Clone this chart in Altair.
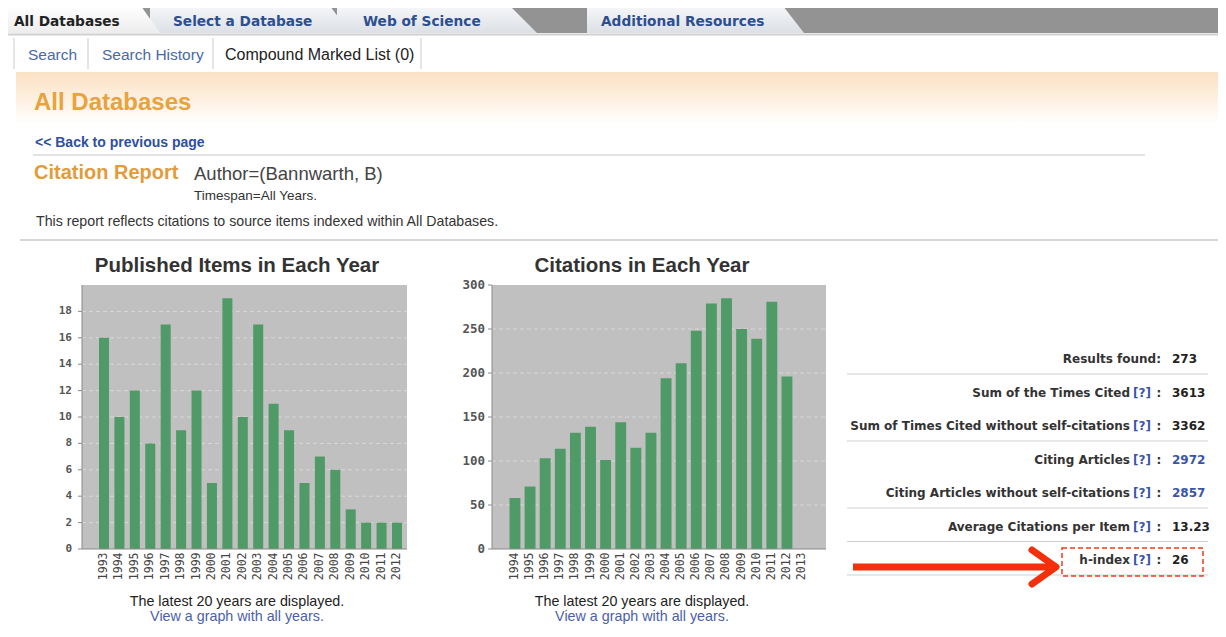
import altair as alt
import pandas as pd

# ---------------- data ----------------
pub_years = ["1993", "1994", "1995", "1996", "1997", "1998", "1999", "2000", "2001", "2002",
             "2003", "2004", "2005", "2006", "2007", "2008", "2009", "2010", "2011", "2012"]
pub_counts = [16, 10, 12, 8, 17, 9, 12, 5, 19, 10, 17, 11, 9, 5, 7, 6, 3, 2, 2, 2]
pub_ticks = [0, 2, 4, 6, 8, 10, 12, 14, 16, 18]

cit_years = ["1994", "1995", "1996", "1997", "1998", "1999", "2000", "2001", "2002", "2003",
             "2004", "2005", "2006", "2007", "2008", "2009", "2010", "2011", "2012", "2013"]
cit_counts = [58, 71, 103, 114, 132, 139, 101, 144, 115, 132,
              194, 211, 248, 279, 285, 250, 239, 281, 196, 0]
cit_ticks = [0, 50, 100, 150, 200, 250, 300]

stat_labels = ["Results found:", "Sum of the Times Cited",
               "Sum of Times Cited without self-citations", "Citing Articles",
               "Citing Articles without self-citations", "Average Citations per Item", "h-index"]
stat_values = ["273", "3613", "3362", "2972", "2857", "13.23", "26"]
stat_help = [False, True, True, True, True, True, True]
stat_link = [False, False, False, True, True, False, False]
stat_rules = [0, 2, 4, 5, 6]

tab_labels = ["All Databases", "Select a Database", "Web of Science", "Additional Resources"]
nav_labels = ["Search", "Search History", "Compound Marked List (0)"]

# ---------------- helpers ----------------
W, H = 1210, 617
OX, OY = 8, 8
ONE = pd.DataFrame({"k": [0]})
SANS = "Liberation Sans"
DJ = "DejaVu Sans"
MONO = "DejaVu Sans Mono"


def X(v):
    return alt.value(v - OX)


def Y(v):
    return alt.value(v - OY)


def txt(s, x, y, size, color="#333333", weight="normal", font=SANS, align="left"):
    return alt.Chart(ONE).mark_text(
        text=s, font=font, fontSize=size, fontWeight=weight, color=color,
        align=align, baseline="middle"
    ).encode(x=X(x), y=Y(y))


def box(x1, y1, x2, y2, fill):
    return alt.Chart(ONE).mark_rect(fill=fill).encode(x=X(x1), x2=X(x2), y=Y(y1), y2=Y(y2))


def hline(x1, x2, y, color, width=1.0):
    return alt.Chart(ONE).mark_rule(color=color, strokeWidth=width).encode(x=X(x1), x2=X(x2), y=Y(y))


def vline(x, y1, y2, color, width=1.0):
    return alt.Chart(ONE).mark_rule(color=color, strokeWidth=width).encode(x=X(x), y=Y(y1), y2=Y(y2))


def grad(c0, c1, mid=None):
    stops = [alt.GradientStop(color=c0, offset=0)]
    if mid:
        stops.append(alt.GradientStop(color=mid, offset=0.45))
    stops.append(alt.GradientStop(color=c1, offset=1))
    return alt.LinearGradient(gradient="linear", stops=stops, x1=0, x2=0, y1=0, y2=1)


def poly(path, x, y, fill):
    return alt.Chart(ONE).mark_point(
        shape=path, size=4, filled=True, fill=fill, strokeWidth=0, opacity=1
    ).encode(x=X(x), y=Y(y))


layers = []

# ---------------- header ----------------
layers.append(box(8, 6, 1226, 33, "#939393"))
tab_off = grad("#f6f7f9", "#dce0e5")
layers.append(poly("M0 0 L196 0 L217 27 L0 27 Z", 587, 6, tab_off))
layers.append(poly("M0 0 L173 0 L200 27 L0 27 Z", 337, 6, tab_off))
layers.append(poly("M0 0 L180 0 L200 27 L0 27 Z", 150, 6, tab_off))
layers.append(poly("M0 0 L133 0 L152 27 L0 27 Z", 8, 6, grad("#ffffff", "#ececec")))
layers.append(hline(8, 1226, 34.5, "#cfcfcf", 2))
layers.append(txt(tab_labels[0], 14, 22, 13.7, "#222222", "bold", DJ))
layers.append(txt(tab_labels[1], 173, 22, 13.7, "#2d4f8f", "bold", DJ))
layers.append(txt(tab_labels[2], 363, 22, 13.7, "#2d4f8f", "bold", DJ))
layers.append(txt(tab_labels[3], 601, 22, 13.7, "#2d4f8f", "bold", DJ))

for sx in [14, 88, 213, 421]:
    layers.append(vline(sx, 38, 69, "#dddddd", 1.5))
layers.append(txt(nav_labels[0], 28, 55, 15.5, "#4a69a8"))
layers.append(txt(nav_labels[1], 102, 55, 15.5, "#4a69a8"))
layers.append(txt(nav_labels[2], 225, 55, 16, "#222222"))

layers.append(box(16, 72, 1226, 124, grad("#fbe1c4", "#ffffff", "#fdeedc")))
layers.append(txt("All Databases", 34, 103, 24, "#eaa23c", "bold"))
layers.append(txt("<< Back to previous page", 35, 143, 14, "#2e4f9e", "bold"))
layers.append(hline(33, 1145, 155, "#c8c8c8", 1.2))
layers.append(txt("Citation Report", 34, 173, 20, "#e39b3b", "bold"))
layers.append(txt("Author=(Bannwarth, B)", 194, 174, 18.5, "#444444"))
layers.append(txt("Timespan=All Years.", 194, 196, 13.5, "#333333"))
layers.append(txt("This report reflects citations to source items indexed within All Databases.",
                  36, 222, 14.2, "#333333"))
layers.append(hline(20, 1226, 240, "#c8c8c8", 1.5))


# ---------------- bar panels ----------------
def bar_panel(years, counts, ticks, ymax, left, right, xr0, xr1, pin, lab_size, lab_gap):
    top, bottom = 285, 549
    df = pd.DataFrame({"year": years, "count": counts})
    tdf = pd.DataFrame({"v": ticks})
    gdf = pd.DataFrame({"v": [t for t in ticks if 0 < t < ymax]})
    yscale = alt.Scale(domain=[0, ymax], range=[bottom - OY, top - OY], nice=False, zero=True)
    bg = box(left, top, right, bottom, "#c0c0c0")
    grid = alt.Chart(gdf).mark_rule(color="#d8d8d8", strokeDash=[4, 3], strokeWidth=1).encode(
        x=X(left), x2=X(right), y=alt.Y("v:Q", scale=yscale, axis=None))
    bars = alt.Chart(df).mark_bar(color="#4f9a67").encode(
        x=alt.X("year:O", sort=years,
                scale=alt.Scale(range=[xr0 - OX, xr1 - OX], paddingInner=pin, paddingOuter=pin / 2),
                axis=alt.Axis(orient="bottom", offset=(bottom - OY) - H, title=None, domain=False,
                              ticks=False, labelAngle=270, labelFont=MONO, labelFontSize=11.5,
                              labelColor="#444444", labelPadding=3, labelOverlap=False,
                              grid=False, zindex=1)),
        y=alt.Y("count:Q", scale=yscale, axis=None),
    )
    tick_marks = alt.Chart(tdf).mark_rule(color="#8a8a8a", strokeWidth=1).encode(
        x=X(left - 4), x2=X(left), y=alt.Y("v:Q", scale=yscale, axis=None))
    tick_labels = alt.Chart(tdf).mark_text(
        align="right", baseline="middle", font=MONO, fontSize=lab_size, fontWeight="bold",
        color="#555555").encode(
        x=X(left - lab_gap), y=alt.Y("v:Q", scale=yscale, axis=None), text=alt.Text("v:Q"))
    base = hline(left, right, bottom, "#8a8a8a", 1)
    side = vline(left, top, bottom, "#8a8a8a", 1)
    return alt.layer(bg, grid, bars, base, side, tick_marks, tick_labels)


layers.append(bar_panel(pub_years, pub_counts, pub_ticks, 20, 82, 407, 96.3, 404.7, 0.35, 11, 10))
layers.append(bar_panel(cit_years, cit_counts, cit_ticks, 300, 492, 826, 507.4, 809.6, 0.28, 12.5, 7))

layers.append(txt("Published Items in Each Year", 237, 266, 20.5, "#333333", "bold", align="center"))
layers.append(txt("Citations in Each Year", 642, 266, 20.5, "#333333", "bold", align="center"))
for cx in [237, 642]:
    layers.append(txt("The latest 20 years are displayed.", cx, 602, 14.3, "#222222", align="center"))
    layers.append(txt("View a graph with all years.", cx, 617, 14.3, "#4b5fa8", align="center"))

# ---------------- stats panel ----------------
sdf = pd.DataFrame({"row": list(range(len(stat_labels))), "label": stat_labels,
                    "value": stat_values, "help": stat_help, "link": stat_link})
rdf = pd.DataFrame({"row": stat_rules})
ysc = alt.Scale(type="point", range=[359 - OY, 560 - OY], padding=0)
yenc = alt.Y("row:O", scale=ysc, axis=None)
sty = dict(font=DJ, fontSize=12, fontWeight="bold", baseline="middle")

redbox = alt.Chart(ONE).mark_rect(fill="white", fillOpacity=0, stroke="#f0391a", strokeWidth=1.5,
                                  strokeDash=[5, 3]).encode(x=X(1062), x2=X(1203), y=Y(548), y2=Y(576))
seps = alt.Chart(rdf).mark_rule(color="#cfcfcf", strokeWidth=1.2, yOffset=15).encode(
    x=X(847), x2=X(1208), y=yenc)
t_label = alt.Chart(sdf).transform_filter("datum.help").mark_text(
    align="right", color="#333333", **sty).encode(x=X(1130), y=yenc, text="label:N")
t_res = alt.Chart(sdf).transform_filter("!datum.help").mark_text(
    align="right", color="#333333", **sty).encode(x=X(1161), y=yenc, text="label:N")
t_q = alt.Chart(sdf).transform_filter("datum.help").mark_text(
    text="[?]", align="left", color="#3a55a8", **sty).encode(x=X(1133), y=yenc)
t_colon = alt.Chart(sdf).transform_filter("datum.help").mark_text(
    text=":", align="center", color="#333333", **sty).encode(x=X(1159), y=yenc)
t_val = alt.Chart(sdf).transform_filter("!datum.link").mark_text(
    align="left", color="#222222", **sty).encode(x=X(1172), y=yenc, text="value:N")
t_valb = alt.Chart(sdf).transform_filter("datum.link").mark_text(
    align="left", color="#3a55a8", **sty).encode(x=X(1172), y=yenc, text="value:N")
layers.append(alt.layer(seps, redbox, t_label, t_res, t_q, t_colon, t_val, t_valb))

# ---------------- red arrow ----------------
layers.append(hline(853, 1050, 567, "#f4300c", 7))
layers.append(alt.Chart(ONE).mark_point(
    shape="M -24 -17 L 0 0 L -24 17", size=4, filled=False, color="#f4300c",
    strokeWidth=7, strokeCap="round", strokeJoin="round", opacity=1
).encode(x=X(1056), y=Y(567)))

chart = alt.layer(*layers).resolve_scale(x="independent", y="independent").properties(
    width=W, height=H, autosize=alt.AutoSizeParams(type="none"), padding=0, background="white"
).configure_view(strokeWidth=0)

chart.save("out.html", embed_options={"renderer": "svg", "actions": False})
